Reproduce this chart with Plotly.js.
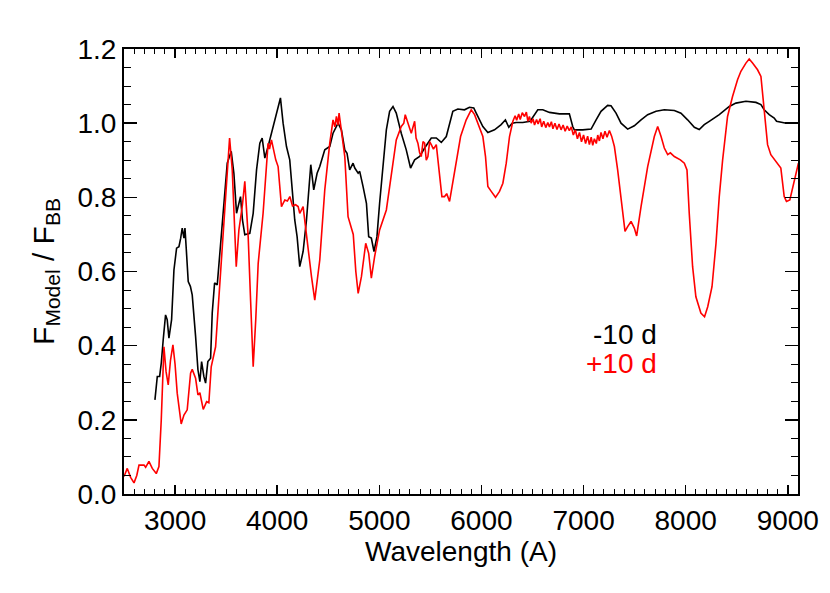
<!DOCTYPE html>
<html>
<head>
<meta charset="utf-8">
<script src="https://cdn.plot.ly/plotly-3.0.1.min.js"></script>
<style>
  body { margin: 0; background: #fff; }
  #plot { width: 830px; height: 593px; }
</style>
</head>
<body>
<div id="plot"></div>
<script>
// -10 d model spectrum (black)
var waveEarly = [2803,2826,2849,2865,2884,2907,2923,2940,2966,2989,3015,3038,3055,3070,3087,3097,3110,3129,3150,3168,
  3201,3224,3243,3260,3282,3299,3321,3348,3364,3387,3413,3446,3478,3511,3550,3576,3602,3620,3641,3660,
  3683,3732,3765,3798,3830,3853,3879,3911,3944,3977,4009,4032,4058,4091,4123,4150,4172,4195,4221,4254,
  4287,4329,4358,4391,4417,4466,4515,4547,4596,4629,4662,4684,4710,4743,4760,4793,4808,4841,4874,4896,
  4922,4948,4977,5003,5036,5069,5101,5134,5166,5215,5264,5306,5346,5395,5444,5509,5558,5607,5656,5688,
  5720,5769,5834,5883,5925,5949,6014,6063,6128,6193,6235,6268,6301,6340,6405,6477,6519,6552,6601,6666,
  6764,6861,6894,6910,6992,7074,7123,7171,7236,7269,7318,7367,7432,7497,7563,7628,7710,7791,7889,7954,
  8019,8085,8133,8182,8231,8329,8427,8492,8590,8688,8737,8769,8818,8867,8890,8932,8985];
var fluxEarly = [0.254,0.317,0.317,0.353,0.416,0.483,0.470,0.420,0.470,0.604,0.663,0.667,0.690,0.717,0.690,0.717,0.660,0.573,0.560,0.537,
  0.425,0.335,0.303,0.357,0.317,0.299,0.357,0.366,0.488,0.569,0.564,0.676,0.784,0.892,0.924,0.865,0.757,0.780,0.802,0.739,
  0.699,0.703,0.757,0.874,0.946,0.960,0.906,0.937,0.973,1.005,1.036,1.068,1.000,0.937,0.901,0.820,0.739,0.694,0.613,0.654,
  0.739,0.888,0.820,0.865,0.883,0.928,0.937,0.973,1.000,0.982,0.928,0.919,0.874,0.892,0.879,0.865,0.870,0.829,0.784,0.694,
  0.690,0.654,0.694,0.784,0.883,0.982,1.032,1.045,1.027,0.973,0.928,0.879,0.901,0.910,0.933,0.960,0.960,0.948,0.964,1.000,
  1.032,1.038,1.036,1.043,1.041,1.027,0.991,0.975,0.982,0.996,1.009,0.989,1.000,1.002,1.002,1.005,1.023,1.036,1.036,1.029,
  1.025,1.025,0.991,0.982,0.982,0.984,1.009,1.032,1.048,1.047,1.027,1.000,0.984,0.993,1.009,1.023,1.032,1.036,1.034,1.027,
  1.009,0.989,0.983,0.996,1.005,1.023,1.045,1.054,1.059,1.056,1.050,1.036,1.023,1.014,1.005,1.002,1.000];

// +10 d model spectrum (red)
var waveLate = [2500,2532,2565,2598,2625,2647,2696,2712,2744,2777,
  2816,2842,2865,2891,2912,2933,2955,2979,3000,3021,
  3060,3087,3119,3152,3168,3201,3224,3243,3276,3309,
  3331,3354,3397,3446,3478,3511,3534,3560,3580,3599,
  3625,3660,3683,3700,3716,3740,3765,3790,3814,3862,
  3911,3925,3944,3986,4009,4042,4075,4100,4124,4150,
  4180,4205,4221,4254,4287,4336,4368,4417,4466,4515,
  4547,4565,4580,4595,4606,4629,4662,4694,4727,4745,
  4770,4793,4825,4867,4896,4922,4954,5003,5069,5118,
  5166,5215,5240,5254,5280,5313,5346,5360,5378,5395,
  5411,5428,5444,5460,5476,5493,5509,5530,5558,5590,
  5613,5639,5660,5688,5737,5796,5851,5900,5933,5982,
  6014,6040,6063,6096,6138,6177,6210,6243,6275,6308,
  6330,6345,6365,6380,6400,6422,6440,6455,6470,6487,
  6505,6520,6540,6555,6575,6590,6610,6630,6650,6666,
  6685,6700,6720,6740,6760,6780,6800,6820,6840,6861,
  6880,6900,6920,6940,6960,6980,7000,7020,7040,7057,
  7075,7090,7106,7125,7139,7155,7171,7190,7210,7230,
  7253,7275,7302,7334,7367,7406,7432,7465,7497,7520,
  7563,7628,7693,7726,7759,7791,7824,7850,7889,7920,
  7948,7987,8013,8035,8068,8100,8149,8185,8216,8258,
  8297,8329,8362,8410,8459,8508,8541,8590,8622,8655,
  8704,8737,8759,8779,8802,8834,8883,8932,8965,8987,
  9020,9062,9104];
var fluxLate = [0.047,0.069,0.045,0.030,0.050,0.078,0.078,0.072,0.088,0.069,
  0.055,0.074,0.200,0.397,0.330,0.294,0.360,0.402,0.350,0.272,
  0.189,0.213,0.227,0.326,0.336,0.312,0.267,0.273,0.228,0.249,
  0.246,0.343,0.397,0.604,0.739,0.892,0.960,0.874,0.720,0.613,
  0.712,0.780,0.843,0.760,0.694,0.520,0.343,0.470,0.622,0.757,
  0.946,0.930,0.955,0.901,0.883,0.775,0.793,0.790,0.802,0.777,
  0.780,0.775,0.757,0.775,0.694,0.586,0.523,0.631,0.820,0.946,
  1.009,0.990,1.018,0.995,1.027,0.982,0.910,0.748,0.721,0.700,
  0.600,0.541,0.586,0.676,0.649,0.582,0.640,0.712,0.766,0.865,
  0.955,0.991,1.000,1.023,1.000,0.973,1.005,0.960,0.946,0.920,
  0.910,0.950,0.946,0.900,0.910,0.950,0.942,0.930,0.942,0.865,
  0.802,0.802,0.810,0.789,0.865,0.964,1.009,1.036,1.023,0.987,
  0.964,0.910,0.829,0.816,0.800,0.816,0.838,0.892,0.964,1.005,
  1.020,1.008,1.025,1.010,1.028,1.018,1.030,1.005,1.018,1.000,
  1.012,0.995,1.010,0.998,1.012,0.990,1.005,0.988,1.002,0.990,
  1.004,0.985,1.000,0.983,0.998,0.982,0.995,0.978,0.992,0.980,
  0.990,0.968,0.982,0.958,0.975,0.950,0.968,0.945,0.965,0.942,
  0.962,0.940,0.958,0.945,0.968,0.952,0.975,0.958,0.978,0.962,
  0.980,0.965,0.937,0.874,0.793,0.708,0.721,0.735,0.717,0.696,
  0.775,0.883,0.964,0.991,0.964,0.933,0.915,0.920,0.910,0.905,
  0.901,0.892,0.874,0.757,0.613,0.532,0.488,0.478,0.505,0.559,
  0.676,0.802,0.901,1.018,1.072,1.117,1.140,1.162,1.173,1.162,
  1.144,1.126,1.063,1.000,0.942,0.915,0.897,0.879,0.802,0.789,
  0.793,0.843,0.892];

var labelEarly = "-10 d";
var labelLate = "+10 d";

var font = "Liberation Sans, Arial, Helvetica, sans-serif";

var trace1 = {
  x: waveEarly,
  y: fluxEarly,
  type: "scatter",
  mode: "lines",
  line: {color: "black", width: 1.6},
  hoverinfo: "skip"
};

var trace2 = {
  x: waveLate,
  y: fluxLate,
  type: "scatter",
  mode: "lines",
  line: {color: "red", width: 1.6},
  hoverinfo: "skip"
};

var data = [trace1, trace2];

var layout = {
  width: 830,
  height: 593,
  margin: {l: 124, r: 32, t: 49, b: 99},
  showlegend: false,
  paper_bgcolor: "white",
  plot_bgcolor: "white",
  font: {family: font, size: 28, color: "black"},
  xaxis: {
    range: [2500, 9100],
    tick0: 0,
    dtick: 1000,
    ticks: "inside",
    ticklen: 9,
    tickwidth: 1.5,
    tickcolor: "black",
    minor: {dtick: 100, ticks: "inside", ticklen: 5, tickwidth: 1, tickcolor: "black"},
    showline: true,
    linewidth: 2,
    linecolor: "black",
    mirror: "ticks",
    showgrid: false,
    zeroline: false,
    tickfont: {size: 28},
    title: {text: "Wavelength (A)", font: {size: 28}, standoff: 6}
  },
  yaxis: {
    range: [0, 1.2],
    tick0: 0,
    dtick: 0.2,
    tickformat: ".1f",
    ticks: "inside",
    ticklen: 13,
    tickwidth: 1.5,
    tickcolor: "black",
    minor: {dtick: 0.05, ticks: "inside", ticklen: 7, tickwidth: 1, tickcolor: "black"},
    showline: true,
    linewidth: 2,
    linecolor: "black",
    mirror: "ticks",
    showgrid: false,
    zeroline: false,
    tickfont: {size: 28},
    title: {text: "F<sub>Model</sub> / F<sub>BB</sub>", font: {size: 30}, standoff: 14}
  },
  annotations: [
    {x: 7742, y: 0.43, xref: "x", yref: "y", text: labelEarly, showarrow: false,
     xanchor: "right", yanchor: "middle", font: {size: 28, color: "black"}},
    {x: 7742, y: 0.352, xref: "x", yref: "y", text: labelLate, showarrow: false,
     xanchor: "right", yanchor: "middle", font: {size: 28, color: "red"}}
  ]
};

Plotly.newPlot("plot", data, layout, {staticPlot: true});
</script>
</body>
</html>
